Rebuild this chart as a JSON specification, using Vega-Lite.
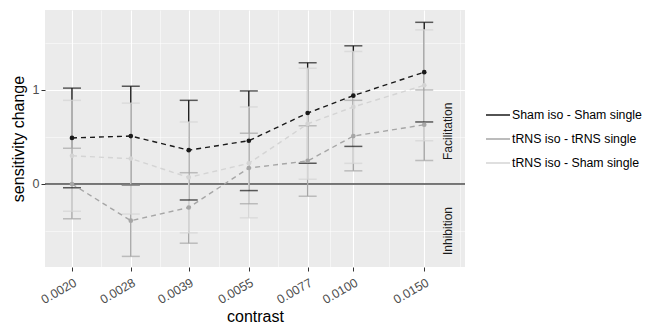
{
  "$schema": "https://vega.github.io/schema/vega-lite/v6.json",
  "width": 420,
  "height": 257,
  "autosize": {"type": "none"},
  "padding": {"left": 45, "top": 10, "right": 184, "bottom": 58},
  "background": "white",
  "view": {"fill": "#ebebeb", "stroke": null},
  "config": {
    "font": "Liberation Sans",
    "axis": {"domain": false, "tickColor": "#333333", "tickSize": 4, "labelColor": "#4d4d4d", "labelFontSize": 12.5, "titleFontSize": 16, "titleFontWeight": "normal", "titleColor": "#000000", "gridColor": "#ffffff"},
    "legend": {"labelFontSize": 12.3, "labelColor": "#000000", "symbolType": "stroke", "symbolSize": 576, "symbolStrokeWidth": 1.5, "rowPadding": 4, "labelOffset": 1, "labelLimit": 300}
  },
  "datasets": {
    "d": [
      {"contrast": 0.0020, "series": "Sham iso - Sham single", "mean": 0.49, "lo": -0.04, "hi": 1.02},
      {"contrast": 0.0028, "series": "Sham iso - Sham single", "mean": 0.51, "lo": -0.01, "hi": 1.04},
      {"contrast": 0.0039, "series": "Sham iso - Sham single", "mean": 0.36, "lo": -0.17, "hi": 0.89},
      {"contrast": 0.0055, "series": "Sham iso - Sham single", "mean": 0.46, "lo": -0.07, "hi": 0.99},
      {"contrast": 0.0077, "series": "Sham iso - Sham single", "mean": 0.755, "lo": 0.22, "hi": 1.29},
      {"contrast": 0.0100, "series": "Sham iso - Sham single", "mean": 0.94, "lo": 0.40, "hi": 1.47},
      {"contrast": 0.0150, "series": "Sham iso - Sham single", "mean": 1.19, "lo": 0.66, "hi": 1.72},
      {"contrast": 0.0020, "series": "tRNS iso - tRNS single", "mean": 0.0, "lo": -0.37, "hi": 0.38},
      {"contrast": 0.0028, "series": "tRNS iso - tRNS single", "mean": -0.39, "lo": -0.77, "hi": -0.01},
      {"contrast": 0.0039, "series": "tRNS iso - tRNS single", "mean": -0.25, "lo": -0.63, "hi": 0.12},
      {"contrast": 0.0055, "series": "tRNS iso - tRNS single", "mean": 0.17, "lo": -0.21, "hi": 0.54},
      {"contrast": 0.0077, "series": "tRNS iso - tRNS single", "mean": 0.245, "lo": -0.13, "hi": 0.62},
      {"contrast": 0.0100, "series": "tRNS iso - tRNS single", "mean": 0.51, "lo": 0.14, "hi": 0.89},
      {"contrast": 0.0150, "series": "tRNS iso - tRNS single", "mean": 0.63, "lo": 0.25, "hi": 1.0},
      {"contrast": 0.0020, "series": "tRNS iso - Sham single", "mean": 0.30, "lo": -0.29, "hi": 0.89},
      {"contrast": 0.0028, "series": "tRNS iso - Sham single", "mean": 0.27, "lo": -0.32, "hi": 0.86},
      {"contrast": 0.0039, "series": "tRNS iso - Sham single", "mean": 0.07, "lo": -0.52, "hi": 0.66},
      {"contrast": 0.0055, "series": "tRNS iso - Sham single", "mean": 0.22, "lo": -0.36, "hi": 0.82},
      {"contrast": 0.0077, "series": "tRNS iso - Sham single", "mean": 0.64, "lo": 0.05, "hi": 1.23},
      {"contrast": 0.0100, "series": "tRNS iso - Sham single", "mean": 0.82, "lo": 0.22, "hi": 1.41},
      {"contrast": 0.0150, "series": "tRNS iso - Sham single", "mean": 1.05, "lo": 0.46, "hi": 1.64}
    ],
    "notes": [
      {"contrast": 0.0172, "value": 0.56, "label": "Facilitation"},
      {"contrast": 0.0172, "value": -0.5, "label": "Inhibition"}
    ],
    "zero": [{"value": 0}]
  },
  "layer": [
    {
      "data": {"name": "zero"},
      "mark": {"type": "rule", "color": "#4d4d4d", "strokeWidth": 1.6},
      "encoding": {"y": {"field": "value", "type": "quantitative"}}
    },
    {
      "data": {"name": "d"},
      "mark": {"type": "rule", "strokeWidth": 1.4},
      "encoding": {
        "x": {"field": "contrast", "type": "quantitative",
          "scale": {"type": "log", "domain": [0.001714, 0.01894], "nice": false},
          "axis": {
            "title": "contrast",
            "values": [0.002, 0.002366, 0.0028, 0.003305, 0.0039, 0.004631, 0.0055, 0.006508, 0.0077, 0.008775, 0.01, 0.012247, 0.015, 0.01837],
            "labelExpr": "indexof([0.002,0.0028,0.0039,0.0055,0.0077,0.01,0.015], datum.value) >= 0 ? format(datum.value, '.4f') : ''",
            "labelAngle": -30,
            "labelFlush": false,
            "labelOverlap": false,
            "labelPadding": 5,
            "titlePadding": 3,
            "tickOpacity": {"condition": {"test": "indexof([0.002,0.0028,0.0039,0.0055,0.0077,0.01,0.015], datum.value) >= 0", "value": 1}, "value": 0},
            "gridWidth": {"condition": {"test": "indexof([0.002,0.0028,0.0039,0.0055,0.0077,0.01,0.015], datum.value) >= 0", "value": 1.1}, "value": 0.5}
          }
        },
        "y": {"field": "lo", "type": "quantitative",
          "scale": {"domain": [-0.883, 1.851], "nice": false, "zero": false},
          "axis": {
            "title": "sensitivity change",
            "values": [-0.5, 0, 0.5, 1, 1.5],
            "labelExpr": "datum.value % 1 == 0 ? format(datum.value, 'd') : ''",
            "labelFontSize": 12.5,
            "tickOpacity": {"condition": {"test": "datum.value % 1 == 0", "value": 1}, "value": 0},
            "gridWidth": {"condition": {"test": "datum.value % 1 == 0", "value": 1.1}, "value": 0.5},
            "titlePadding": 6
          }
        },
        "y2": {"field": "hi"},
        "color": {"field": "series", "type": "nominal",
          "scale": {"domain": ["Sham iso - Sham single", "tRNS iso - tRNS single", "tRNS iso - Sham single"], "range": ["#1a1a1a", "#a6a6a6", "#d4d4d4"]},
          "legend": {"title": null, "orient": "none", "legendX": 440, "legendY": 92}
        }
      }
    },
    {
      "data": {"name": "d"},
      "mark": {"type": "tick", "orient": "horizontal", "size": 18, "thickness": 1.5},
      "encoding": {
        "x": {"field": "contrast", "type": "quantitative"},
        "y": {"field": "lo", "type": "quantitative"},
        "color": {"field": "series", "type": "nominal", "legend": null}
      }
    },
    {
      "data": {"name": "d"},
      "mark": {"type": "tick", "orient": "horizontal", "size": 18, "thickness": 1.5},
      "encoding": {
        "x": {"field": "contrast", "type": "quantitative"},
        "y": {"field": "hi", "type": "quantitative"},
        "color": {"field": "series", "type": "nominal", "legend": null}
      }
    },
    {
      "data": {"name": "d"},
      "mark": {"type": "line", "strokeDash": [5, 4], "strokeWidth": 1.4},
      "encoding": {
        "x": {"field": "contrast", "type": "quantitative"},
        "y": {"field": "mean", "type": "quantitative"},
        "color": {"field": "series", "type": "nominal", "legend": null}
      }
    },
    {
      "data": {"name": "d"},
      "mark": {"type": "point", "filled": true, "opacity": 1, "size": 22},
      "encoding": {
        "x": {"field": "contrast", "type": "quantitative"},
        "y": {"field": "mean", "type": "quantitative"},
        "color": {"field": "series", "type": "nominal", "legend": null}
      }
    },
    {
      "data": {"name": "notes"},
      "mark": {"type": "text", "angle": 270, "fontSize": 12, "color": "#1a1a1a", "align": "center", "baseline": "middle"},
      "encoding": {
        "x": {"field": "contrast", "type": "quantitative"},
        "y": {"field": "value", "type": "quantitative"},
        "text": {"field": "label"}
      }
    }
  ]
}
